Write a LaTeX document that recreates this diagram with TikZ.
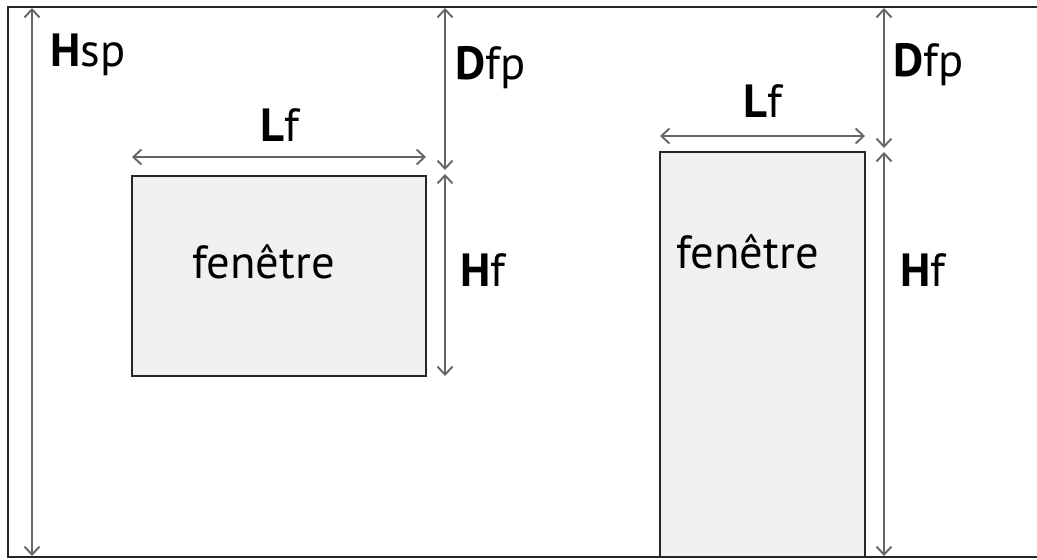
\documentclass[tikz,border=0pt]{standalone}
\usepackage{fontspec}
\setmainfont{PT Sans}
\usetikzlibrary{arrows.meta}
\usetikzlibrary{positioning}
\definecolor{trait}{HTML}{666666}
\definecolor{vitre}{HTML}{F0F0F0}

\begin{document}
\begin{tikzpicture}[x=0.02cm, y=-0.02cm,
		window/.style={draw=black!85, fill=vitre, line width=1.3pt, inner sep=0mm, outer sep=0mm},
		cote/.style={draw=trait, line width=1.1pt, {Straight Barb[length=1.6mm,width=3mm]}-{Straight Barb[length=1.6mm,width=3mm]}},
		txt/.style={anchor=base west, inner sep=0mm, font=\fontsize{26.5}{30}\selectfont}]
		\useasboundingbox (0,0) rectangle (1037,560);
		\draw[line width=1.3pt, draw=black!85] (1037,7) -| (8,557) -- (1037,557);
		% fenetres
		\node[window, minimum width=5.88cm, minimum height=4cm] at (279,276) (win1) {};
		\node[window, minimum width=4.1cm, minimum height=8.1cm] at (762.5,354.5) (win2) {};
		\node[txt] at (192,278) (fen1) {fenêtre};
		\node[txt] at (676,269) (fen2) {fenêtre};
		% cotes
		\coordinate (hsp1) at (32,8);
		\coordinate (hsp2) at (32,556);
		\coordinate (lfa1) at (132,157);
		\coordinate (lfa2) at (426,157);
		\coordinate (dfa1) at (445,8);
		\coordinate (dfa2) at (445,170);
		\coordinate (hfa1) at (445,174);
		\coordinate (hfa2) at (445,376);
		\coordinate (lfb1) at (660,136);
		\coordinate (lfb2) at (865,136);
		\coordinate (dfb1) at (884,8);
		\coordinate (dfb2) at (884,148);
		\coordinate (hfb1) at (884,152);
		\coordinate (hfb2) at (884,556);
		\draw[cote] (hsp1) -- (hsp2);
		\draw[cote] (lfa1) -- (lfa2);
		\draw[cote] (dfa1) -- (dfa2);
		\draw[cote] (hfa1) -- (hfa2);
		\draw[cote] (lfb1) -- (lfb2);
		\draw[cote] (dfb1) -- (dfb2);
		\draw[cote] (hfb1) -- (hfb2);
		% textes
		\node[txt] at (50,67) (hsp) {\textbf{H}sp};
		\node[txt] at (260,142) (lfa) {\textbf{L}f};
		\node[txt] at (455,80) (dfa) {\textbf{D}fp};
		\node[txt] at (460,287) (hfa) {\textbf{H}f};
		\node[txt] at (743,118) (lfb) {\textbf{L}f};
		\node[txt] at (893,77) (dfb) {\textbf{D}fp};
		\node[txt] at (900,287) (hfb) {\textbf{H}f};
	\end{tikzpicture}
\end{document}
